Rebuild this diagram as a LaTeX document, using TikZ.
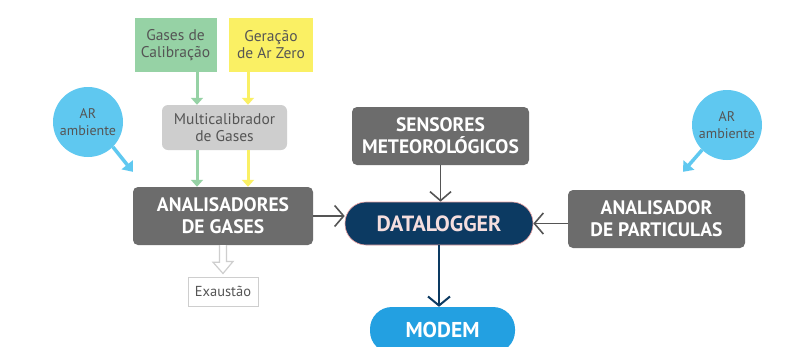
\documentclass[tikz,border=0pt]{standalone}
\usepackage{fontspec}
\setmainfont{PT Sans}
\usetikzlibrary{positioning}
\usetikzlibrary{arrows.meta}

\definecolor{boxgray}{RGB}{108,108,108}
\definecolor{lightgray}{RGB}{206,206,206}
\definecolor{calgreen}{RGB}{150,210,165}
\definecolor{zeroyellow}{RGB}{250,240,100}
\definecolor{navy}{RGB}{12,58,98}
\definecolor{modemblue}{RGB}{35,160,225}
\definecolor{airblue}{RGB}{95,200,240}
\definecolor{textgray}{RGB}{85,85,85}
\definecolor{pinkline}{RGB}{235,160,160}
\definecolor{palepink}{RGB}{245,222,222}

\tikzset{
	darkbox/.style = {fill = boxgray, rounded corners = 5pt, text = white, font = \fontsize{19.5}{22}\selectfont\bfseries, align = center, minimum width = 177pt, minimum height = 58pt, inner sep = 0pt},
	smallbox/.style = {text = textgray, font = \fontsize{15.5}{17}\selectfont, align = center, inner sep = 0pt},
	airball/.style = {circle, fill = airblue, text = textgray, font = \fontsize{14}{17}\selectfont, align = center, minimum size = 70pt, inner sep = 0pt},
	grayarrow/.style = {draw = textgray, line width = 1.6pt, -{Straight Barb[length = 9pt, width = 21pt, line width = 1.6pt]}},
	airarrow/.style = {draw = airblue, line width = 3.5pt, -{Triangle[length = 9pt, width = 14pt]}},
}

\begin{document}
\begin{tikzpicture}[x = 1pt, y = -1pt]
	\clip (0, 0) rectangle (806, 346);
	\fill [white] (0, 0) rectangle (806, 346);

	\node (gases) at (175.5, 45) [smallbox, fill = calgreen, minimum width = 82pt, minimum height = 54pt] {Gases de\\Calibração};
	\node (zero) at (271, 45) [smallbox, fill = zeroyellow, minimum width = 84pt, minimum height = 54pt] {Geração\\de Ar Zero};
	\node (multi) at (224.5, 127.5) [smallbox, fill = lightgray, rounded corners = 6pt, minimum width = 125pt, minimum height = 45pt] {Multicalibrador\\de Gases};
	\node (ana) at (223, 216) [darkbox, minimum width = 180pt] {ANALISADORES\\DE GASES};
	\node (exa) at (223, 291.5) [smallbox, draw = lightgray, line width = 1pt, fill = white, font = \fontsize{14.5}{16}\selectfont, minimum width = 70pt, minimum height = 29pt] {Exaustão};
	\node (sens) at (440.5, 136) [darkbox] {SENSORES\\METEOROLÓGICOS};
	\node (data) at (439, 223.5) [darkbox, fill = navy, draw = pinkline, line width = 0.6pt, rounded corners = 21pt, text = palepink, font = \fontsize{22}{24}\selectfont\bfseries, minimum width = 188pt, minimum height = 43pt] {DATALOGGER};
	\node (modem) at (442.5, 330) [darkbox, fill = modemblue, rounded corners = 22pt, font = \fontsize{21.5}{24}\selectfont\bfseries, minimum width = 145pt, minimum height = 46pt] {MODEM};
	\node (part) at (656.5, 219) [darkbox] {ANALISADOR\\DE PARTICULAS};
	\node (airl) at (88, 122) [airball] {AR\\ambiente};
	\node (airr) at (727, 125) [airball] {AR\\ambiente};

	% gas lines
	\draw [calgreen, line width = 3pt, -{Triangle[length = 7pt, width = 12pt]}] ([xshift = 21.5pt]gases.south) -- ([xshift = -27.5pt]multi.north);
	\draw [zeroyellow, line width = 3pt, -{Triangle[length = 7pt, width = 12pt]}] ([xshift = -23pt]zero.south) -- ([xshift = 23.5pt]multi.north);
	\draw [calgreen, line width = 3pt, -{Triangle[length = 7pt, width = 12pt]}] ([xshift = -27.5pt]multi.south) -- ([xshift = -26pt]ana.north);
	\draw [zeroyellow, line width = 3pt, -{Triangle[length = 7pt, width = 12pt]}] ([xshift = 23.5pt]multi.south) -- ([xshift = 25pt]ana.north);

	\draw [airarrow] (airl.-45) -- ([yshift = 15pt]ana.north west);
	\draw [airarrow] (airr.-135) -- ([xshift = 26.5pt, yshift = 18pt]part.north);

	\draw [grayarrow] (ana.east) -- (ana.east -| data.west);
	\draw [grayarrow] (part.west |- data.east) -- (data.east);
	\draw [grayarrow] (sens.south) -- (data.north -| sens.south);
	\draw [navy, line width = 2pt, -{Straight Barb[length = 9pt, width = 22pt, line width = 2pt]}] (data.south) -- (modem.north -| data.south);

	% exhaust
	\draw [lightgray, line width = 1.2pt, fill = white] ([xshift = -3.5pt]ana.south) -- ++(0, 17) -- ++(-6.5, 0) -- ([yshift = 3pt]exa.north) -- ++(10, -12) -- ++(-6.5, 0) -- ([xshift = 3.5pt]ana.south);
\end{tikzpicture}
\end{document}
